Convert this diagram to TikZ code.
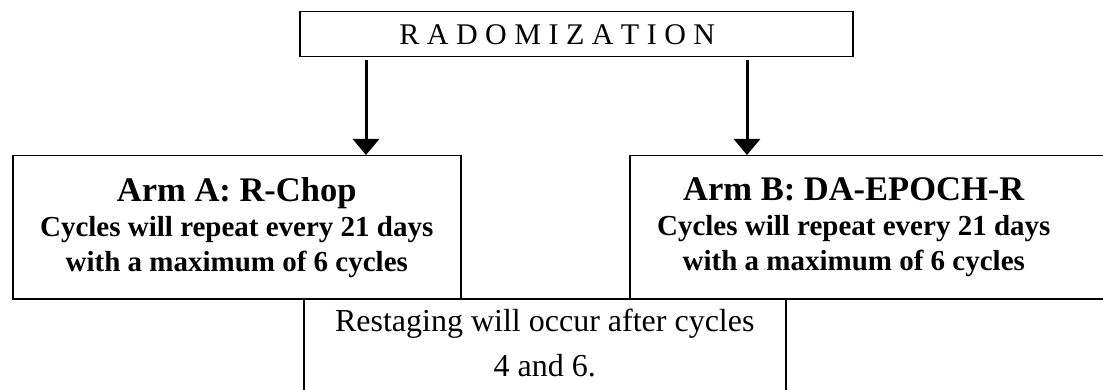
\documentclass[tikz,border=0pt]{standalone}
\usepackage{fontspec}
\setmainfont{Liberation Serif}
\usetikzlibrary{arrows.meta,positioning}

\begin{document}
\begin{tikzpicture}[x=1pt, y=-1pt,
	box/.style = {draw, line width=1.5pt, inner sep=0pt, align=center, anchor=north west},
	armfont/.style = {font=\bfseries\fontsize{29}{35}\selectfont},
	armbox/.style = {box, armfont, minimum height=143pt},
	arrow/.style = {line width=3pt, -{Triangle[width=26pt,length=16pt]}}]
	\useasboundingbox (0,0) rectangle (1103,390);
	
	\node (radom) [box, minimum width=553pt, minimum height=45pt, font=\fontsize{30}{34}\selectfont] at (299,11)
		{R A D O M I Z A T I O N\hspace*{38pt}};
	\node (armA) [armbox, minimum width=448pt] at (12,155)
		{{\fontsize{34.5}{35}\selectfont Arm A: R-Chop}\\
		 Cycles will repeat every 21 days\\
		 with a maximum of 6 cycles};
	\node (armB) [armbox, minimum width=474pt] at (629,155) {};
	\node (armBtext) [armfont, align=center, inner sep=0pt] at ([xshift=-13pt]armB.center)
		{{\fontsize{34.5}{35}\selectfont Arm B: DA-EPOCH-R}\\
		 Cycles will repeat every 21 days\\
		 with a maximum of 6 cycles};
	\node (restage) [box, minimum width=482pt, minimum height=100pt, text depth=12pt, font=\fontsize{32}{45}\selectfont] at (303,298)
		{Restaging will occur after cycles\\
		 4 and 6.};
	
	\coordinate (a1) at (366,60);
	\coordinate (b1) at (747,60);
	\draw[arrow] (a1) -- (a1 |- armA.north);
	\draw[arrow] (b1) -- (b1 |- armB.north);
\end{tikzpicture}
\end{document}
